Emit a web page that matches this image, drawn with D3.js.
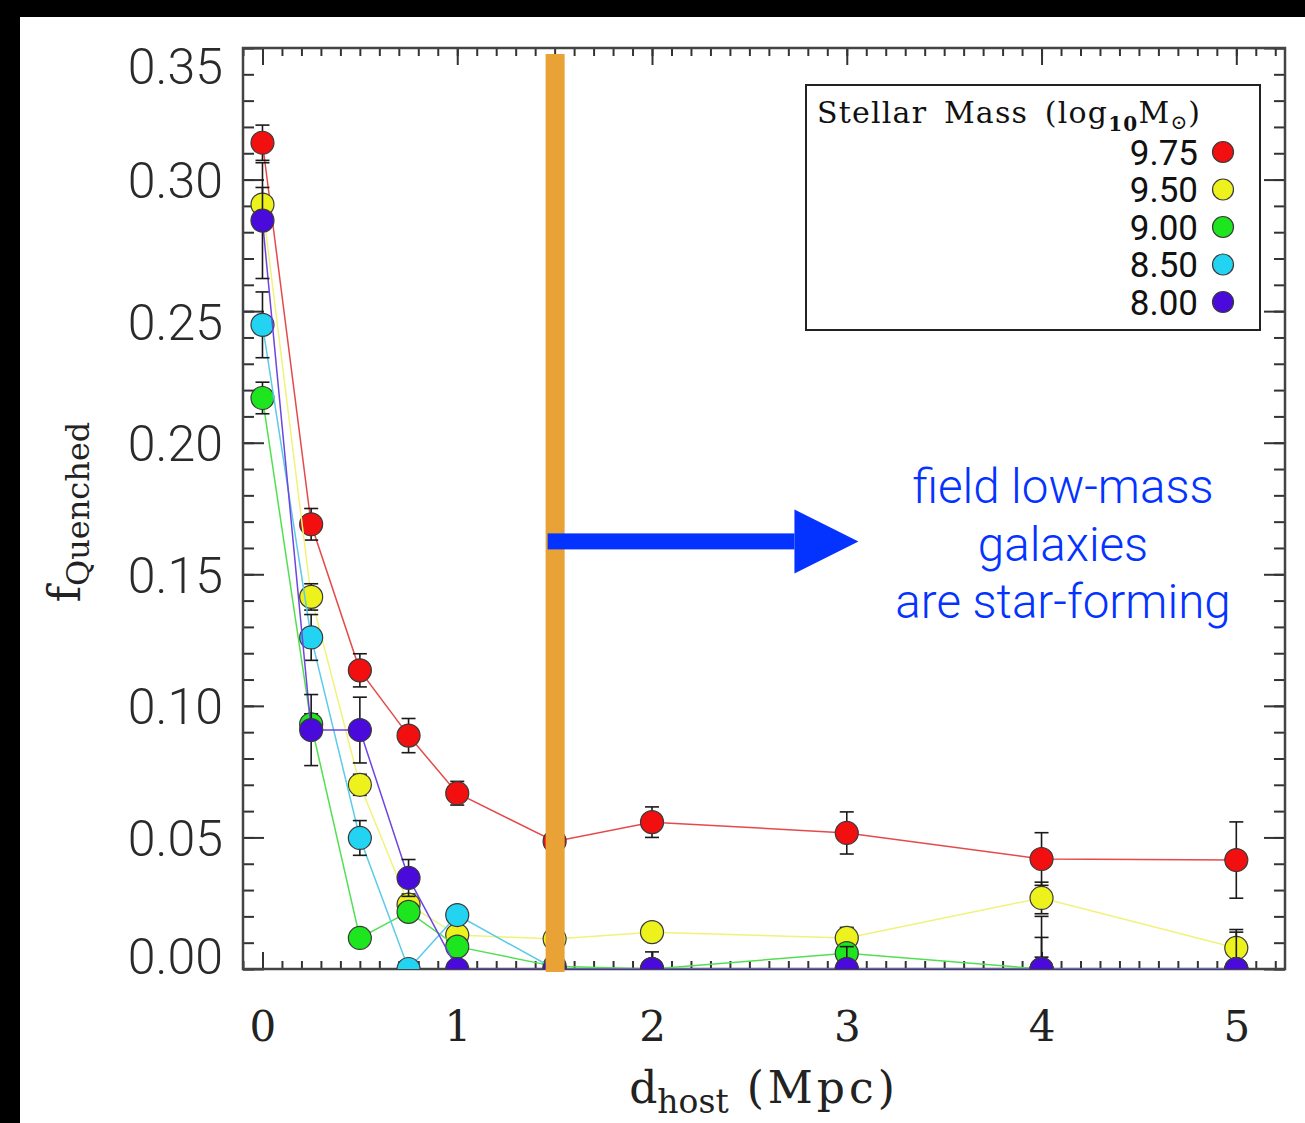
<!DOCTYPE html>
<html>
<head>
<meta charset="utf-8">
<script src="https://cdn.jsdelivr.net/npm/d3@7/dist/d3.min.js"></script>
<style>
  body { margin: 0; background: #fff; }
  svg { display: block; }
</style>
</head>
<body>
<svg id="chart" width="1305" height="1123"></svg>
<script>

// ********************** //
//          Data          //
// ********************** //

var distances = [0, 0.25, 0.5, 0.75, 1, 1.5, 2, 3, 4, 5];
var massLabels = ['9.75', '9.50', '9.00', '8.50', '8.00'];

var fq975 = [0.314, 0.169, 0.1135, 0.0887, 0.0668, 0.0485, 0.0558, 0.0517, 0.0418, 0.0414];
var err975 = [0.0067, 0.006, 0.0063, 0.0065, 0.0045, 0.005, 0.0058, 0.008, 0.010, 0.0145];
var fq950 = [0.2905, 0.1414, 0.0700, 0.0245, 0.0129, 0.0114, 0.0140, 0.0118, 0.0270, 0.0080];
var err950 = [0.0065, 0.005, 0.004, 0.004, 0.003, 0.002, 0.002, 0.004, 0.006, 0.006];
var fq900 = [0.2170, 0.0930, 0.0118, 0.0217, 0.0085, 0.0010, 0.0, 0.0060, 0.0, 0.0];
var err900 = [0.006, 0.004, 0.002, 0.003, 0.002, 0.001, 0.0, 0.003, 0.012, 0.0];
var fq850 = [0.2448, 0.1260, 0.0498, 0.0, 0.0205, 0.0, 0.0, 0.0, 0.0, 0.0];
var err850 = [0.0125, 0.0087, 0.0066, 0.0, 0.003, 0.0, 0.0, 0.0, 0.02, 0.0];
var fq800 = [0.2844, 0.0908, 0.0908, 0.0346, 0.0, 0.0, 0.0, 0.0, 0.0, 0.0];
var err800 = [0.022, 0.0135, 0.0125, 0.007, 0.0, 0.0, 0.0065, 0.0085, 0.0045, 0.015];

var xTicks = [0, 1, 2, 3, 4, 5];
var yTicks = [0, 0.05, 0.10, 0.15, 0.20, 0.25, 0.30, 0.35];
var yTickLabels = ['0.00', '0.05', '0.10', '0.15', '0.20', '0.25', '0.30', '0.35'];

var cutDistance = 1.5;           // orange marker line
var arrowEnd = 3.06;             // arrow tip (Mpc)
var arrowLevel = 0.1625;         // arrow height (fQ)
var noteLines = ['field low-mass', 'galaxies', 'are star-forming'];

var colors = ['#f20f0f', '#eef21c', '#1ee61e', '#22d4f2', '#4a0adb'];
var lineColors = ['#e54a4a', '#f2f27a', '#52e052', '#5ccbe8', '#6d45e0'];

// ********************** //
//         Setup          //
// ********************** //

var svg = d3.select('#chart'),
    width = +svg.attr('width'),
    height = +svg.attr('height');

var x = d3.scaleLinear().domain([-0.1, 5.25]).range([243, 1285]);
var y = d3.scaleLinear().domain([0, 0.35]).range([969, 48]);

var serif = '"DejaVu Serif", "Liberation Serif", serif';
var sans = 'Roboto, "Liberation Sans", Arial, sans-serif';

svg.append('rect').attr('width', width).attr('height', height).attr('fill', '#fff');

svg.append('defs').append('clipPath').attr('id', 'plotClip')
    .append('rect')
    .attr('x', x.range()[0]).attr('y', y.range()[1])
    .attr('width', x.range()[1] - x.range()[0])
    .attr('height', y.range()[0] - y.range()[1]);

// ***** Axes (ticks on all four sides, pointing in) ***** //
var xMinor = d3.range(-0.1, 5.25, 0.1).map(v => Math.round(v * 10) / 10);
var yMinor = d3.range(0, 0.351, 0.01).map(v => Math.round(v * 100) / 100);

function tickAxis(axis, tx, ty) {
    var g = svg.append('g').attr('transform', 'translate(' + tx + ',' + ty + ')').call(axis);
    g.select('.domain').remove();
    g.selectAll('line').attr('stroke', '#333').attr('stroke-width', 2);
    return g;
}

var x0 = x.range()[0], x1 = x.range()[1], y0 = y.range()[0], y1 = y.range()[1];

tickAxis(d3.axisTop(x).tickValues(xMinor).tickSize(8).tickFormat(''), 0, y0);
tickAxis(d3.axisTop(x).tickValues(xTicks).tickSize(17).tickFormat(''), 0, y0);
tickAxis(d3.axisBottom(x).tickValues(xMinor).tickSize(8).tickFormat(''), 0, y1);
tickAxis(d3.axisBottom(x).tickValues(xTicks).tickSize(17).tickFormat(''), 0, y1);
tickAxis(d3.axisRight(y).tickValues(yMinor).tickSize(11).tickFormat(''), x0, 0);
tickAxis(d3.axisRight(y).tickValues(yTicks).tickSize(21).tickFormat(''), x0, 0);
tickAxis(d3.axisLeft(y).tickValues(yMinor).tickSize(11).tickFormat(''), x1, 0);
tickAxis(d3.axisLeft(y).tickValues(yTicks).tickSize(21).tickFormat(''), x1, 0);

svg.append('rect')
    .attr('x', x0).attr('y', y1)
    .attr('width', x1 - x0).attr('height', y0 - y1)
    .attr('fill', 'none').attr('stroke', '#444').attr('stroke-width', 2.5);

// ***** Tick labels ***** //
var labelShift = {'0.00': -14, '0.25': 10, '0.35': 17};

var yLab = svg.append('g').attr('transform', 'translate(' + x0 + ',0)')
    .call(d3.axisLeft(y).tickValues(yTicks).tickSize(0).tickPadding(20)
        .tickFormat((d, i) => yTickLabels[i]));
yLab.select('.domain').remove();
yLab.selectAll('text')
    .attr('font-family', sans).attr('font-weight', 300)
    .attr('font-size', 50).attr('fill', '#2a2a2a')
    .attr('dy', function (d, i) { return (labelShift[yTickLabels[i]] || 0) + 18; });

var xLab = svg.append('g').attr('transform', 'translate(0,' + y0 + ')')
    .call(d3.axisBottom(x).tickValues(xTicks).tickSize(0).tickPadding(42)
        .tickFormat(d3.format('d')));
xLab.select('.domain').remove();
xLab.selectAll('text')
    .attr('font-family', serif).attr('font-size', 42).attr('fill', '#222');

// ***** Axis titles ***** //
var yTitle = svg.append('text')
    .attr('transform', 'translate(80,512) rotate(-90)')
    .attr('text-anchor', 'middle')
    .attr('font-family', serif).attr('fill', '#222');
yTitle.append('tspan').attr('font-size', 44).text('f');
yTitle.append('tspan').attr('font-size', 32).attr('dy', 9).text('Quenched');

var xTitle = svg.append('text')
    .attr('x', 764).attr('y', 1103)
    .attr('text-anchor', 'middle')
    .attr('font-family', serif).attr('fill', '#222');
xTitle.append('tspan').attr('font-size', 44).text('d');
xTitle.append('tspan').attr('font-size', 33).attr('dy', 10).text('host');
xTitle.append('tspan').attr('font-size', 44).attr('dy', -10).attr('letter-spacing', 4).text('  (Mpc)');

// ********************** //
//        Series          //
// ********************** //

var series = [
    {label: massLabels[0], values: fq975, errors: err975},
    {label: massLabels[1], values: fq950, errors: err950},
    {label: massLabels[2], values: fq900, errors: err900},
    {label: massLabels[3], values: fq850, errors: err850},
    {label: massLabels[4], values: fq800, errors: err800}
];

var plot = svg.append('g').attr('clip-path', 'url(#plotClip)');

var line = d3.line()
    .x((d, i) => x(distances[i]))
    .y(d => y(d));

series.forEach(function (s, k) {
    var g = plot.append('g').attr('class', 'series');

    g.append('path')
        .attr('d', line(s.values))
        .attr('fill', 'none')
        .attr('stroke', lineColors[k])
        .attr('stroke-width', 1.5);

    var pts = s.values.map((v, i) => ({x: distances[i], v: v, e: s.errors[i]}));

    var bars = g.selectAll('.err')
        .data(pts.filter(p => p.e > 0))
        .enter().append('g').attr('class', 'err')
        .attr('stroke', '#1a1a1a').attr('stroke-width', 1.6);
    bars.append('line')
        .attr('x1', p => x(p.x)).attr('x2', p => x(p.x))
        .attr('y1', p => y(p.v - p.e)).attr('y2', p => y(p.v + p.e));
    bars.append('line')
        .attr('x1', p => x(p.x) - 7).attr('x2', p => x(p.x) + 7)
        .attr('y1', p => y(p.v + p.e)).attr('y2', p => y(p.v + p.e));
    bars.append('line')
        .attr('x1', p => x(p.x) - 7).attr('x2', p => x(p.x) + 7)
        .attr('y1', p => y(p.v - p.e)).attr('y2', p => y(p.v - p.e));

    g.selectAll('circle')
        .data(pts)
        .enter().append('circle')
        .attr('cx', p => x(p.x))
        .attr('cy', p => y(p.v))
        .attr('r', 11.5)
        .attr('fill', colors[k])
        .attr('stroke', '#3a3a3a')
        .attr('stroke-width', 1.2);
});

// ********************** //
//         Legend         //
// ********************** //

var legend = svg.append('g');
legend.append('rect')
    .attr('x', 806).attr('y', 85).attr('width', 454).attr('height', 245)
    .attr('fill', '#fff').attr('stroke', '#222').attr('stroke-width', 2);

var lt = legend.append('text')
    .attr('x', 817).attr('y', 123)
    .attr('font-family', serif).attr('font-size', 30)
    .attr('letter-spacing', 1.2).attr('word-spacing', 6).attr('fill', '#111');
lt.append('tspan').text('Stellar Mass (log');
lt.append('tspan').attr('font-size', 20).attr('dy', 8).attr('font-weight', 'bold').text('10');
lt.append('tspan').attr('dy', -8).text('M');
lt.append('tspan').attr('font-size', 20).attr('dy', 6).text('\u2299');
lt.append('tspan').attr('dy', -6).text(')');

var entry = legend.selectAll('.entry')
    .data(series)
    .enter().append('g').attr('class', 'entry')
    .attr('transform', (d, i) => 'translate(0,' + (152 + i * 37.5) + ')');
entry.append('text')
    .attr('x', 1198).attr('dy', '0.36em')
    .attr('text-anchor', 'end')
    .attr('font-family', sans).attr('font-size', 35).attr('fill', '#111')
    .text(d => d.label);
entry.append('circle')
    .attr('cx', 1223).attr('r', 10.5)
    .attr('fill', (d, i) => colors[i])
    .attr('stroke', '#3a3a3a').attr('stroke-width', 1.2);

// ********************** //
//       Annotation       //
// ********************** //

svg.append('rect')
    .attr('x', x(cutDistance) - 9).attr('y', 54)
    .attr('width', 19).attr('height', 918)
    .attr('fill', '#e9a235');

var ay = y(arrowLevel), ax0 = x(cutDistance) - 7, ax1 = x(arrowEnd);
svg.append('rect')
    .attr('x', ax0).attr('y', ay - 8)
    .attr('width', (ax1 - 64) - ax0).attr('height', 16)
    .attr('fill', '#0433ff');
svg.append('path')
    .attr('d', 'M' + (ax1 - 64) + ',' + (ay - 32) + 'L' + ax1 + ',' + ay + 'L' + (ax1 - 64) + ',' + (ay + 32) + 'Z')
    .attr('fill', '#0433ff');

svg.append('text')
    .attr('x', 1063).attr('y', 503)
    .attr('text-anchor', 'middle')
    .attr('font-family', 'Roboto, "Open Sans", sans-serif')
    .attr('font-weight', 300).attr('font-size', 47.5).attr('fill', '#0433ff')
    .selectAll('tspan')
    .data(noteLines)
    .enter().append('tspan')
    .attr('x', 1063).attr('dy', (d, i) => i === 0 ? 0 : 57.5)
    .text(d => d);

// ***** Black frame (screenshot edges) ***** //
svg.append('rect').attr('x', 0).attr('y', 0).attr('width', width).attr('height', 17).attr('fill', '#000');
svg.append('rect').attr('x', 0).attr('y', 0).attr('width', 20).attr('height', height).attr('fill', '#000');

</script>
</body>
</html>
